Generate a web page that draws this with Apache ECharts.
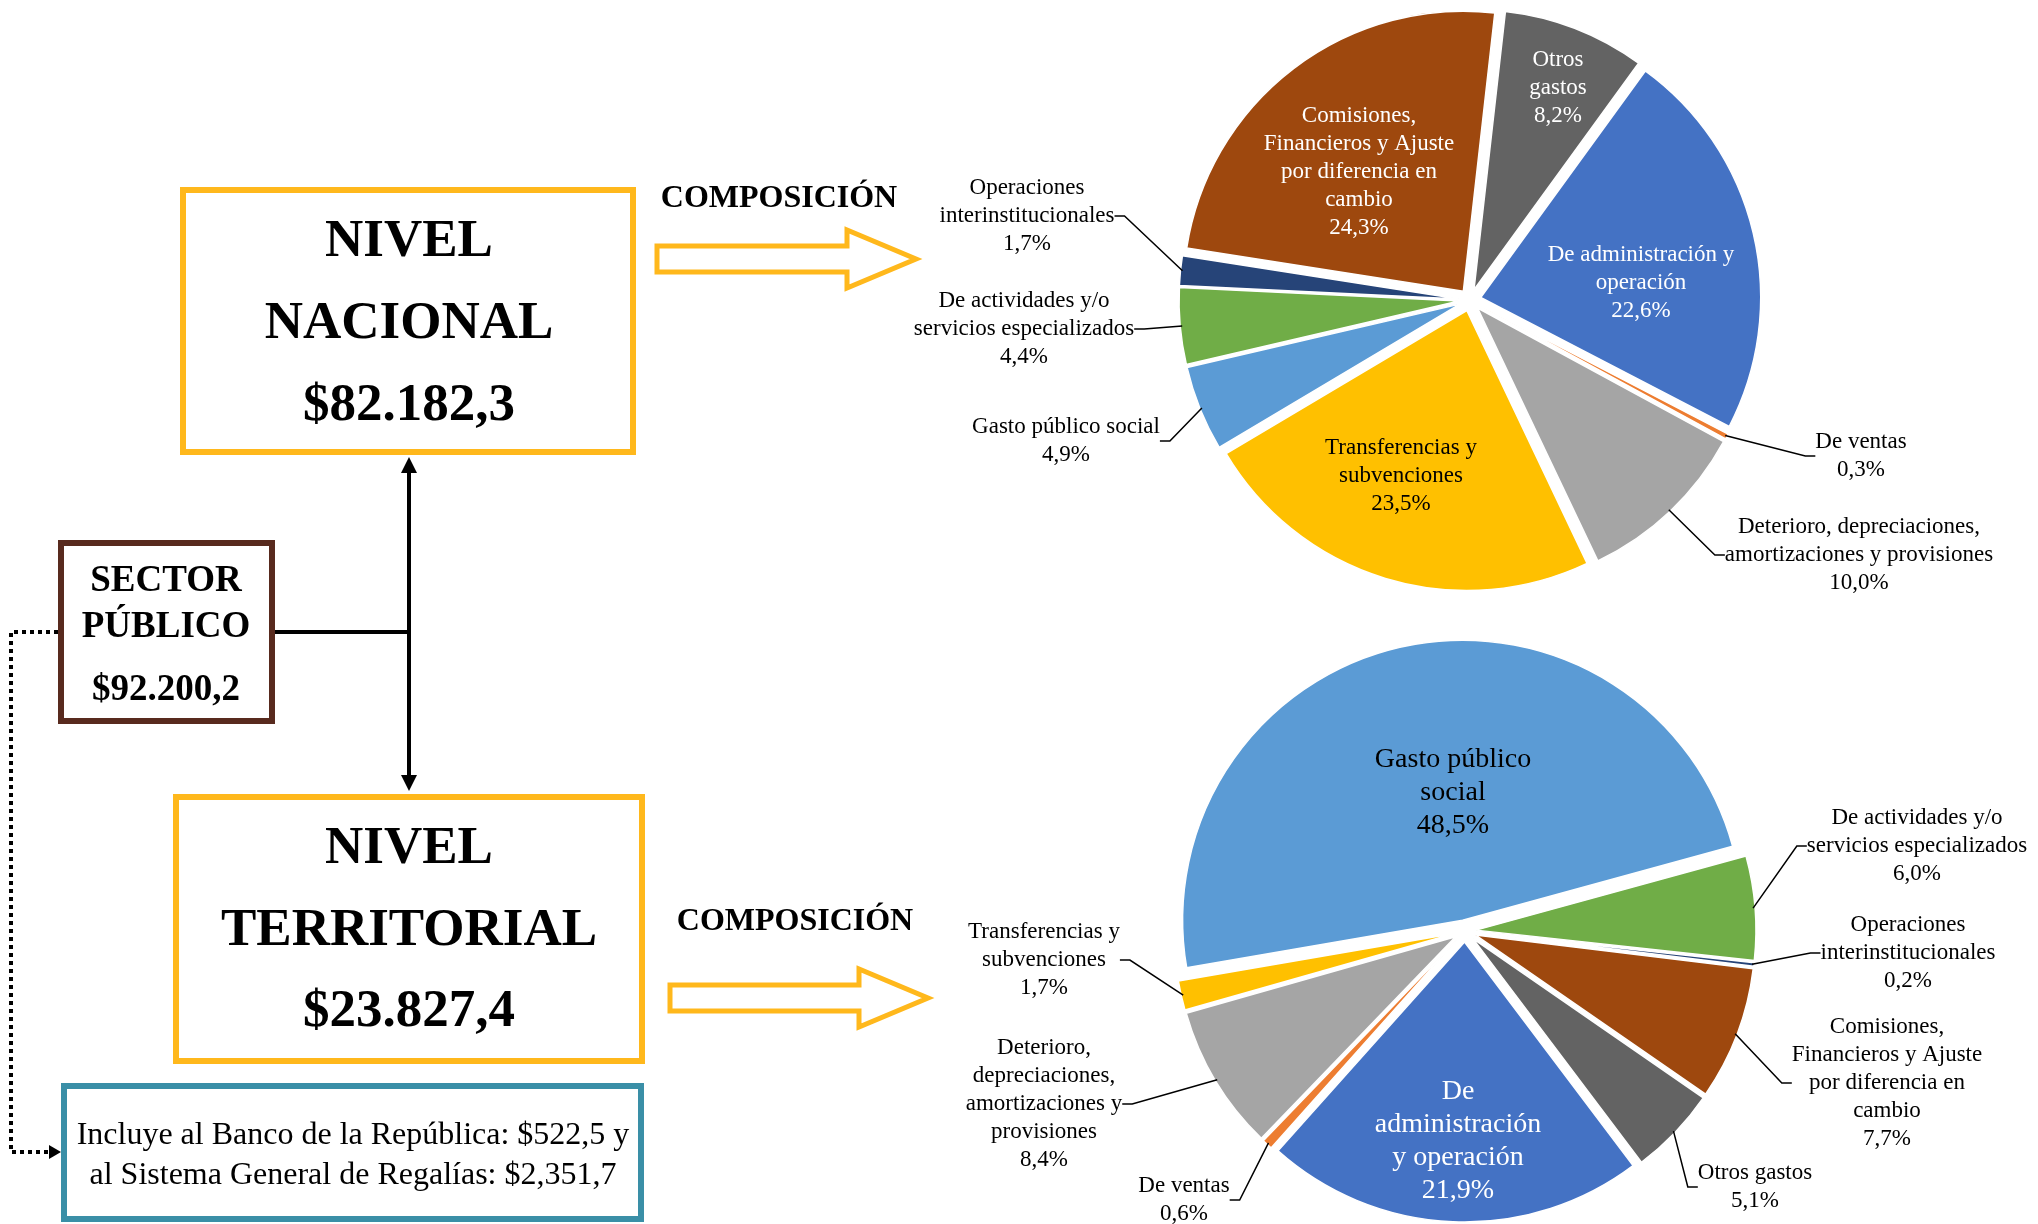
<!DOCTYPE html>
<html>
<head>
<meta charset="utf-8">
<script src="https://cdn.jsdelivr.net/npm/echarts@6/dist/echarts.min.js"></script>
<style>
html, body { margin: 0; padding: 0; background: #fff; }
#chart-container { width: 2038px; height: 1224px; }
</style>
</head>
<body>
<div id="chart-container"></div>
<script>
const categories = [
  'De administración y operación',
  'De ventas',
  'Deterioro, depreciaciones, amortizaciones y provisiones',
  'Transferencias y subvenciones',
  'Gasto público social',
  'De actividades y/o servicios especializados',
  'Operaciones interinstitucionales',
  'Comisiones, Financieros y Ajuste por diferencia en cambio',
  'Otros gastos'
];
const nacionalValues = [22.6, 0.3, 10.0, 23.5, 4.9, 4.4, 1.7, 24.3, 8.2];
const territorialValues = [21.9, 0.6, 8.4, 1.7, 48.5, 6.0, 0.2, 7.7, 5.1];

// label text as wrapped in each pie
const nacionalLabels = [
  'De administración y\noperación',
  'De ventas',
  'Deterioro, depreciaciones,\namortizaciones y provisiones',
  'Transferencias y\nsubvenciones',
  'Gasto público social',
  'De actividades y/o\nservicios especializados',
  'Operaciones\ninterinstitucionales',
  'Comisiones,\nFinancieros y Ajuste\npor diferencia en\ncambio',
  'Otros\ngastos'
];
const territorialLabels = [
  'De\nadministración\ny operación',
  'De ventas',
  'Deterioro,\ndepreciaciones,\namortizaciones y\nprovisiones',
  'Transferencias y\nsubvenciones',
  'Gasto público\nsocial',
  'De actividades y/o\nservicios especializados',
  'Operaciones\ninterinstitucionales',
  'Comisiones,\nFinancieros y Ajuste\npor diferencia en\ncambio',
  'Otros gastos'
];

const sliceColors = ['#4472C4', '#ED7D31', '#A5A5A5', '#FFC000', '#5B9BD5', '#70AD47', '#264478', '#9E480E', '#636363'];

// where each label sits (px), same order as categories
const nacionalLabelPos = [
  [1641, 283], [1861, 456], [1859, 555], [1401, 476], [1066, 441],
  [1024, 329], [1027, 216], [1359, 172], [1558, 88]
];
const territorialLabelPos = [
  [1458, 1141], [1184, 1200], [1044, 1104], [1044, 960], [1453, 793],
  [1917, 846], [1908, 953], [1887, 1083], [1755, 1187]
];
// labels drawn inside the slice -> text colour
const nacionalInside = { 0: '#fff', 3: '#000', 7: '#fff', 8: '#fff' };
const territorialInside = { 0: '#fff', 4: '#000' };

const FONT = '"Liberation Serif", "Times New Roman", serif';
const YELLOW = '#FFB81C';
const PIE_R = 280;
const EXPLODE = 11;

function pct(v) {
  return v.toFixed(1).replace('.', ',') + '%';
}

// visible exploded pie (no labels)
function slicePie(values, center, startAngle) {
  return {
    type: 'pie',
    center: center,
    radius: PIE_R,
    startAngle: startAngle,
    selectedMode: 'multiple',
    selectedOffset: EXPLODE,
    silent: true,
    z: 2,
    itemStyle: { borderColor: '#fff', borderWidth: 1.5 },
    select: { itemStyle: { borderColor: '#fff', borderWidth: 1.5 } },
    emphasis: { disabled: true },
    label: { show: false },
    labelLine: { show: false },
    data: values.map((v, i) => ({
      name: categories[i], value: v, selected: true, itemStyle: { color: sliceColors[i] }
    }))
  };
}

// transparent twin pie that carries the labels and leader lines
function labelPie(values, labels, inside, pos, center, startAngle, insideSize) {
  return {
    type: 'pie',
    center: center,
    radius: PIE_R + EXPLODE - 2,
    startAngle: startAngle,
    silent: true,
    z: 3,
    avoidLabelOverlap: false,
    itemStyle: { color: 'rgba(0,0,0,0)', borderWidth: 0 },
    emphasis: { disabled: true },
    label: {
      show: true,
      position: 'outside',
      formatter: p => labels[p.dataIndex] + '\n' + pct(p.value),
      fontFamily: FONT,
      fontSize: 23,
      lineHeight: 28,
      color: '#000',
      align: 'center'
    },
    labelLine: {
      show: true,
      length: 8,
      length2: 10,
      lineStyle: { color: '#000', width: 1.5 }
    },
    labelLayout: p => ({
      x: pos[p.dataIndex][0],
      y: pos[p.dataIndex][1],
      align: 'center',
      verticalAlign: 'middle'
    }),
    data: values.map((v, i) => {
      const item = { name: categories[i], value: v };
      if (inside[i]) {
        item.label = { position: 'inside', color: inside[i], fontSize: insideSize, lineHeight: insideSize + 5 };
        item.labelLine = { show: false };
      }
      return item;
    })
  };
}

function txt(text, x, y, size, bold) {
  return {
    type: 'text', x: x, y: y, silent: true,
    style: {
      text: text, fill: '#000', fontFamily: FONT, fontSize: size,
      fontWeight: bold ? 'bold' : 'normal',
      textAlign: 'center', textVerticalAlign: 'middle',
      align: 'center', verticalAlign: 'middle'
    }
  };
}

function box(x, y, w, h, color) {
  return {
    type: 'rect', silent: true,
    shape: { x: x, y: y, width: w, height: h },
    style: { fill: '#fff', stroke: color, lineWidth: 6 }
  };
}

function hollowArrow(x0, x1, xTip, yMid) {
  return {
    type: 'polygon', silent: true,
    shape: {
      points: [
        [x0, yMid - 13], [x1, yMid - 13], [x1, yMid - 29], [xTip, yMid],
        [x1, yMid + 29], [x1, yMid + 13], [x0, yMid + 13]
      ]
    },
    style: { fill: '#fff', stroke: YELLOW, lineWidth: 5, lineJoin: 'miter' }
  };
}

function head(points) {
  return { type: 'polygon', silent: true, shape: { points: points }, style: { fill: '#000' } };
}

var dom = document.getElementById('chart-container');
var myChart = echarts.init(dom, null, { renderer: 'canvas' });

var option = {
  backgroundColor: '#fff',
  animation: false,
  textStyle: { fontFamily: FONT },
  graphic: [
    // connectors
    { type: 'polyline', silent: true, shape: { points: [[275, 632], [409, 632]] }, style: { stroke: '#000', lineWidth: 4 } },
    { type: 'polyline', silent: true, shape: { points: [[409, 470], [409, 778]] }, style: { stroke: '#000', lineWidth: 4 } },
    head([[409, 457], [401, 473], [417, 473]]),
    head([[409, 791], [401, 775], [417, 775]]),
    {
      type: 'polyline', silent: true,
      shape: { points: [[58, 632], [11, 632], [11, 1152], [50, 1152]] },
      style: { stroke: '#000', lineWidth: 4, lineDash: [4, 4], fill: null }
    },
    head([[61, 1152], [49, 1145], [49, 1159]]),

    box(183, 190, 450, 262, YELLOW),
    txt('NIVEL', 409, 242, 53, true),
    txt('NACIONAL', 409, 324, 53, true),
    txt('$82.182,3', 409, 406, 53, true),

    box(61, 543, 211, 178, '#582A1E'),
    txt('SECTOR', 166, 581, 37, true),
    txt('PÚBLICO', 166, 627, 37, true),
    txt('$92.200,2', 166, 690, 37, true),

    box(176, 797, 466, 264, YELLOW),
    txt('NIVEL', 409, 849, 53, true),
    txt('TERRITORIAL', 409, 931, 53, true),
    txt('$23.827,4', 409, 1012, 53, true),

    box(64, 1086, 577, 133, '#3A8FA7'),
    txt('Incluye al Banco de la República: $522,5 y', 353, 1136, 32, false),
    txt('al Sistema General de Regalías: $2,351,7', 353, 1176, 32, false),

    txt('COMPOSICIÓN', 779, 199, 32, true),
    hollowArrow(657, 847, 916, 259),
    txt('COMPOSICIÓN', 795, 922, 32, true),
    hollowArrow(670, 859, 928, 998)
  ],
  series: [
    slicePie(nacionalValues, [1470, 300], 54),
    slicePie(territorialValues, [1465, 931], -53),
    labelPie(nacionalValues, nacionalLabels, nacionalInside, nacionalLabelPos, [1470, 300], 54, 23),
    labelPie(territorialValues, territorialLabels, territorialInside, territorialLabelPos, [1465, 931], -53, 28)
  ]
};

if (option && typeof option === 'object') {
  myChart.setOption(option);
}

window.addEventListener('resize', myChart.resize);
</script>
</body>
</html>
